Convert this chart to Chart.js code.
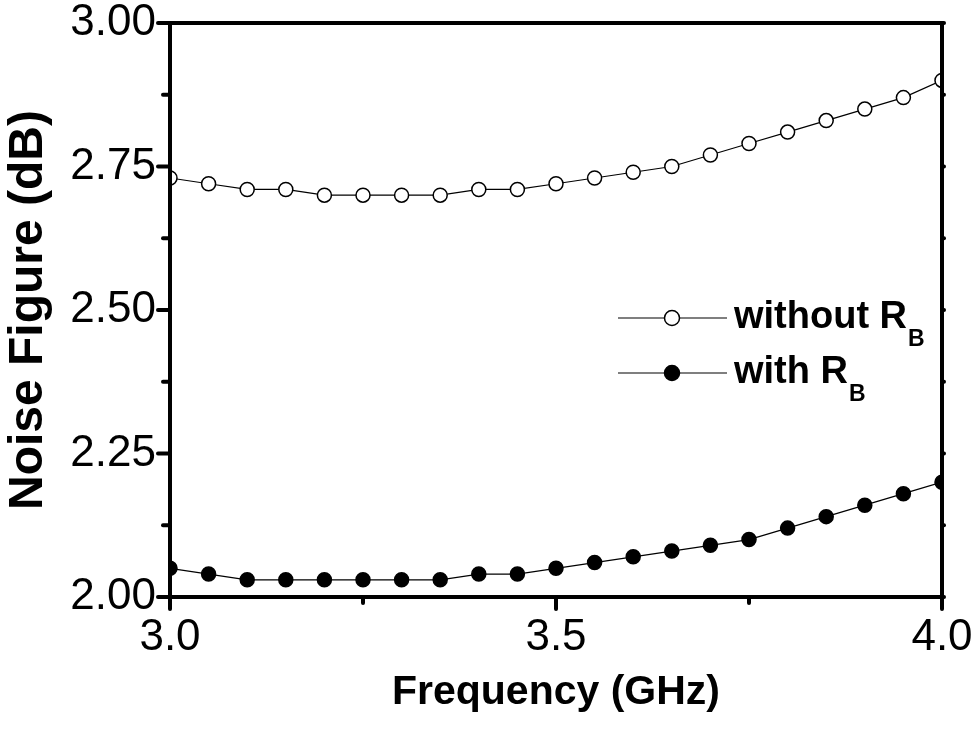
<!DOCTYPE html>
<html>
<head>
<meta charset="utf-8">
<script src="https://cdn.jsdelivr.net/npm/chart.js@4.4.1/dist/chart.umd.min.js"></script>
<style>
  html, body { margin: 0; padding: 0; background: #fff; }
  #wrap { width: 974px; height: 729px; }
</style>
</head>
<body>
<div id="wrap"><canvas id="chart" width="974" height="729"></canvas></div>
<script>
// Data
const freq = [3.0, 3.05, 3.1, 3.15, 3.2, 3.25, 3.3, 3.35, 3.4, 3.45, 3.5,
  3.55, 3.6, 3.65, 3.7, 3.75, 3.8, 3.85, 3.9, 3.95, 4.0];
const nfWithout = [2.73, 2.72, 2.71, 2.71, 2.70, 2.70, 2.70, 2.70, 2.71, 2.71, 2.72,
  2.73, 2.74, 2.75, 2.77, 2.79, 2.81, 2.83, 2.85, 2.87, 2.90];
const nfWith = [2.05, 2.04, 2.03, 2.03, 2.03, 2.03, 2.03, 2.03, 2.04, 2.04, 2.05,
  2.06, 2.07, 2.08, 2.09, 2.10, 2.12, 2.14, 2.16, 2.18, 2.20];

// Tick values
const xTicks = [3.0, 3.5, 4.0];
const xMinor = [3.25, 3.75];
const yTicks = [2.0, 2.25, 2.5, 2.75, 3.0];
const yMinor = [2.125, 2.375, 2.625, 2.875];

const FONT = "'Liberation Sans', Arial, sans-serif";

const toPoints = (ys) => freq.map((x, i) => ({ x: x, y: ys[i] }));

// no extra room for overhanging tick labels, the layout padding sets the plot box
const noLabelPadding = (s) => {
  s.paddingTop = 0;
  s.paddingBottom = 0;
  s.paddingLeft = 0;
  s.paddingRight = 0;
};

// Frame, tick marks and legend drawn on top of the chart
const framePlugin = {
  id: "frame",
  afterDraw(chart) {
    const ctx = chart.ctx;
    const { left, right, top, bottom } = chart.chartArea;
    const xs = chart.scales.x;
    const ys = chart.scales.y;

    ctx.save();
    ctx.strokeStyle = "#000";
    ctx.lineCap = "round";

    // ticks
    ctx.lineWidth = 4;
    yTicks.forEach((v) => {
      const py = ys.getPixelForValue(v);
      ctx.beginPath(); ctx.moveTo(left - 12, py); ctx.lineTo(left, py); ctx.stroke();
      ctx.beginPath(); ctx.moveTo(right, py); ctx.lineTo(right + 2, py); ctx.stroke();
    });
    yMinor.forEach((v) => {
      const py = ys.getPixelForValue(v);
      ctx.beginPath(); ctx.moveTo(left - 7, py); ctx.lineTo(left, py); ctx.stroke();
      ctx.beginPath(); ctx.moveTo(right, py); ctx.lineTo(right + 2, py); ctx.stroke();
    });
    xTicks.forEach((v) => {
      const px = xs.getPixelForValue(v);
      ctx.beginPath(); ctx.moveTo(px, bottom); ctx.lineTo(px, bottom + 12); ctx.stroke();
    });
    xMinor.forEach((v) => {
      const px = xs.getPixelForValue(v);
      ctx.beginPath(); ctx.moveTo(px, bottom); ctx.lineTo(px, bottom + 6); ctx.stroke();
    });

    // frame
    ctx.lineCap = "square";
    ctx.lineWidth = 4;
    ctx.strokeRect(left, top, right - left, bottom - top);

    // legend
    const items = [
      { label: "without R", fill: "#fff", y: 318 },
      { label: "with R", fill: "#000", y: 373 },
    ];
    items.forEach((it) => {
      ctx.lineWidth = 1.2;
      ctx.lineCap = "butt";
      ctx.beginPath(); ctx.moveTo(618, it.y); ctx.lineTo(727, it.y); ctx.stroke();
      ctx.beginPath();
      ctx.arc(672, it.y, 7.5, 0, Math.PI * 2);
      ctx.fillStyle = it.fill;
      ctx.fill();
      ctx.lineWidth = 1.5;
      ctx.stroke();

      ctx.fillStyle = "#000";
      ctx.textBaseline = "middle";
      ctx.textAlign = "left";
      ctx.font = "bold 38px " + FONT;
      ctx.fillText(it.label, 734, it.y);
      const w = ctx.measureText(it.label).width;
      ctx.font = "bold 23px " + FONT;
      ctx.fillText("B", 734 + w + 1, it.y + 22);
    });
    ctx.restore();
  },
};

new Chart(document.getElementById("chart"), {
  type: "line",
  data: {
    datasets: [
      {
        label: "without RB",
        data: toPoints(nfWithout),
        borderColor: "#000",
        borderWidth: 1.2,
        pointRadius: 7,
        pointBorderWidth: 1.5,
        pointBackgroundColor: "#fff",
        pointBorderColor: "#000",
        tension: 0,
      },
      {
        label: "with RB",
        data: toPoints(nfWith),
        borderColor: "#000",
        borderWidth: 1.2,
        pointRadius: 7,
        pointBorderWidth: 1.5,
        pointBackgroundColor: "#000",
        pointBorderColor: "#000",
        tension: 0,
      },
    ],
  },
  options: {
    responsive: false,
    animation: false,
    layout: { padding: { left: 0, right: 32, top: 23, bottom: 0 } },
    plugins: { legend: { display: false }, tooltip: { enabled: false } },
    scales: {
      x: {
        type: "linear",
        min: 3.0,
        max: 4.0,
        afterBuildTicks: (s) => { s.ticks = xTicks.map((v) => ({ value: v })); },
        afterFit: (s) => { s.height = 132; noLabelPadding(s); },
        grid: { display: false, drawTicks: false, tickLength: 0 },
        border: { display: false },
        ticks: {
          color: "#000",
          font: { family: FONT, size: 44 },
          padding: 14,
          maxRotation: 0,
          callback: (v) => v.toFixed(1),
        },
        title: {
          display: true,
          text: "Frequency (GHz)",
          color: "#000",
          font: { family: FONT, size: 41, weight: "bold" },
          padding: { top: 0, bottom: 12 },
        },
      },
      y: {
        type: "linear",
        min: 2.0,
        max: 3.0,
        afterBuildTicks: (s) => { s.ticks = yTicks.map((v) => ({ value: v })); },
        afterFit: (s) => { s.width = 170; noLabelPadding(s); },
        grid: { display: false, drawTicks: false, tickLength: 0 },
        border: { display: false },
        ticks: {
          color: "#000",
          font: { family: FONT, size: 44 },
          padding: 14,
          callback: (v) => v.toFixed(2),
        },
        title: {
          display: true,
          text: "Noise Figure (dB)",
          color: "#000",
          font: { family: FONT, size: 48, weight: "bold" },
          padding: { top: 0, bottom: 0 },
        },
      },
    },
  },
  plugins: [framePlugin],
});
</script>
</body>
</html>
